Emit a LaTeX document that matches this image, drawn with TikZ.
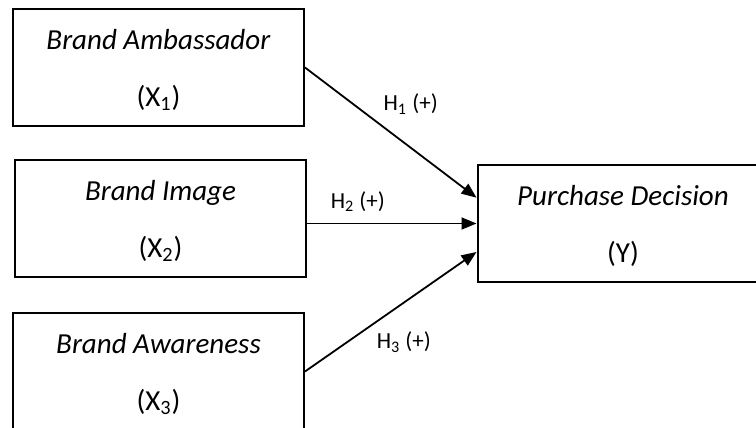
\documentclass[tikz,border=0pt]{standalone}
\usepackage{fontspec}
\setmainfont{Carlito}
\usepackage{tikz}
\usetikzlibrary{
	arrows.meta
}

\tikzset{
	var/.style={draw, line width=1pt, minimum width=145.5pt, minimum height=58.5pt,
		inner sep=0pt, align=center, text depth=-0.8pt, font=\fontsize{14.5}{28.5}\selectfont},
	hyp/.style={font=\fontsize{11.5}{13}\selectfont, inner sep=2pt},
	link/.style={line width=0.9pt, -{Triangle[length=7.5pt,width=6pt]}}
}

\begin{document}
\begin{tikzpicture}[x=0.5pt,y=-0.5pt]
		\useasboundingbox (0,0) rectangle (756,428);
		\clip (0,0) rectangle (756,428);
		\draw
			node[var] (ba) at (158.5,67.5)  {\textit{Brand Ambassador}\\(X\textsubscript{1})}
			node[var] (bi) at (160.5,218.5) {\textit{Brand Image}\\(X\textsubscript{2})}
			node[var] (bw) at (158.5,371.5) {\textit{Brand Awareness}\\(X\textsubscript{3})}
			node[var] (pd) at (623,223.5)   {\textit{Purchase Decision}\\(Y)}

			(ba.east)            edge[link] node[hyp,pos=0.43,above right,yshift=2pt]  {H\textsubscript{1} (+)} (pd.170)
			(bi.east |- pd.west) edge[link] node[hyp,pos=0.3,above,yshift=3.5pt]       {H\textsubscript{2} (+)} (pd.west)
			(bw.east)            edge[link] node[hyp,pos=0.39,below right,yshift=-1pt] {H\textsubscript{3} (+)} (pd.191)
		;
	\end{tikzpicture}
\end{document}
